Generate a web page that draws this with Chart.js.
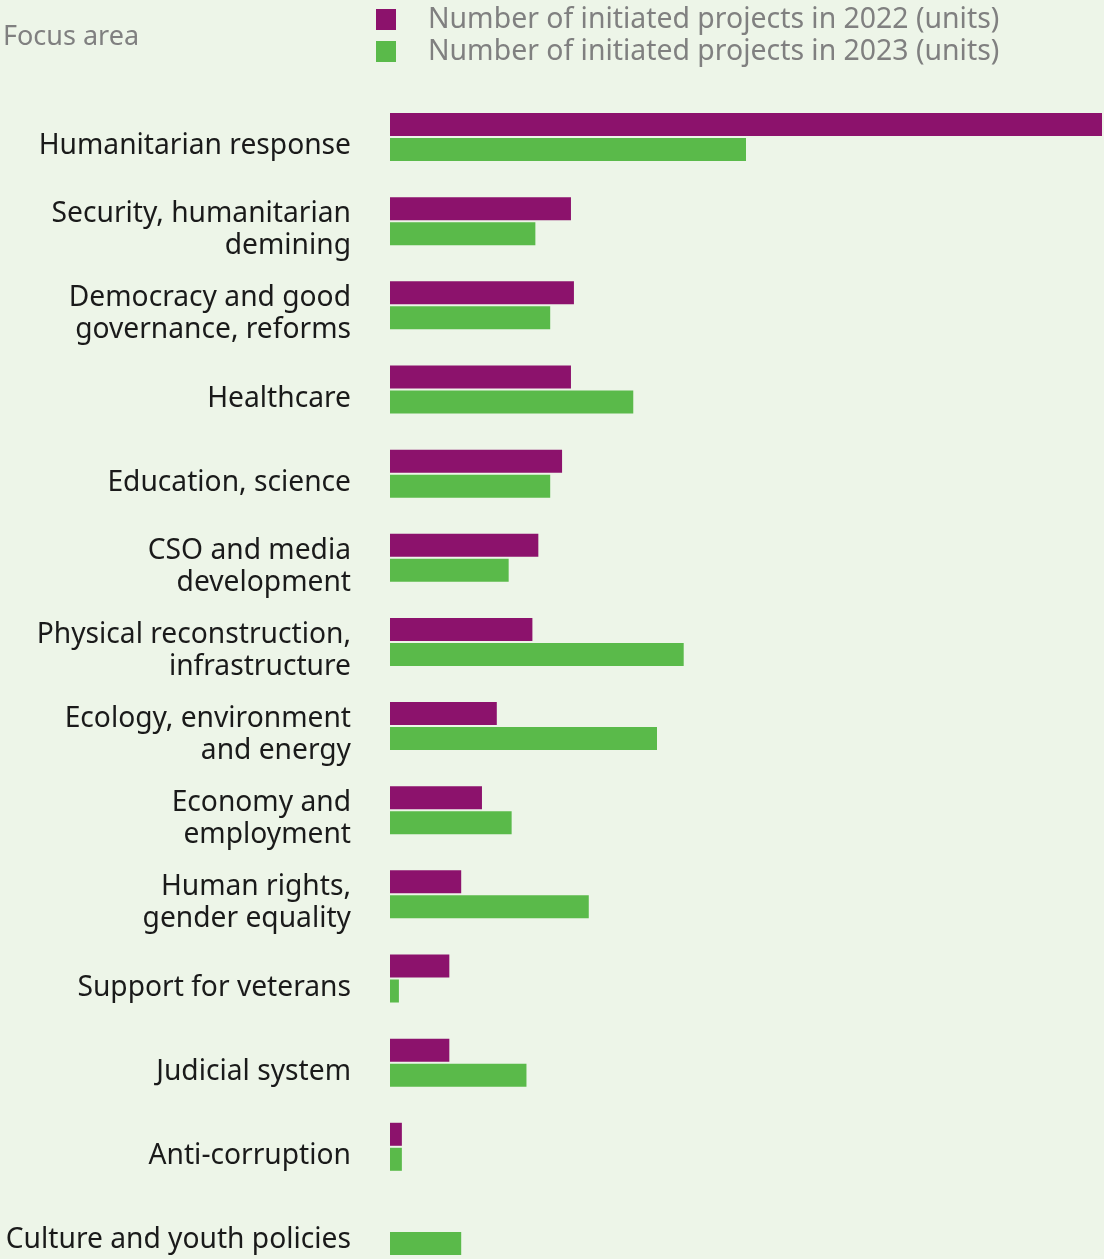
<!DOCTYPE html>
<html>
<head>
<meta charset="utf-8">
<script src="https://cdn.jsdelivr.net/npm/chart.js@4.4.1/dist/chart.umd.min.js"></script>
<style>
  html, body { margin: 0; padding: 0; background: #edf5e8; overflow: hidden; }
  #wrap { position: relative; width: 1104px; height: 1259px; overflow: hidden; }
  #chart { position: absolute; left: 0; top: 0; }
  #focus { position: absolute; left: 3px; top: 19px; font: 27px/32px "Noto Sans"; color: #808080; }
  #legend { position: absolute; left: 376px; top: 1px; font: 28.4px/32px "Noto Sans"; color: #808080; }
  .item { display: flex; align-items: flex-start; height: 32px; white-space: nowrap; }
  .sw { width: 20px; height: 21px; margin-top: 8px; margin-right: 32px; flex: none; }
</style>
</head>
<body>
<div id="wrap">
  <canvas id="chart" width="1104" height="1273"></canvas>
  <div id="focus">Focus area</div>
  <div id="legend"></div>
</div>
<script>
  const categories = [
    "Humanitarian response",
    ["Security, humanitarian", "demining"],
    ["Democracy and good", "governance, reforms"],
    "Healthcare",
    "Education, science",
    ["CSO and media", "development"],
    ["Physical reconstruction,", "infrastructure"],
    ["Ecology, environment", "and energy"],
    ["Economy and", "employment"],
    ["Human rights,", "gender equality"],
    "Support for veterans",
    "Judicial system",
    "Anti-corruption",
    "Culture and youth policies"
  ];
  const projects2022 = [240, 61, 62, 61, 58, 50, 48, 36, 31, 24, 20, 20, 4, 0];
  const projects2023 = [120, 49, 54, 82, 54, 40, 99, 90, 41, 67, 3, 46, 4, 24];
  const seriesNames = [
    "Number of initiated projects in 2022 (units)",
    "Number of initiated projects in 2023 (units)"
  ];
  const colors = ["#8c126c", "#5aba4a"];

  const FONT = "Noto Sans";

  const chart = new Chart(document.getElementById("chart"), {
    type: "bar",
    data: {
      labels: categories,
      datasets: [
        { label: seriesNames[0], data: projects2022, backgroundColor: colors[0] },
        { label: seriesNames[1], data: projects2023, backgroundColor: colors[1] }
      ]
    },
    options: {
      indexAxis: "y",
      responsive: false,
      devicePixelRatio: 1,
      animation: false,
      layout: { padding: { top: 95, right: 2, left: 0, bottom: 0 } },
      datasets: { bar: { categoryPercentage: 0.5945, barPercentage: 0.92 } },
      plugins: { legend: { display: false }, tooltip: { enabled: false } },
      scales: {
        x: { display: false, min: 0, max: 240 },
        y: {
          // fixed axis width, and no extra room for the label halves
          afterFit: (s) => {
            s.width = 390;
            s.paddingTop = 0;
            s.paddingBottom = 0;
          },
          grid: { display: false, drawTicks: false },
          border: { display: false },
          ticks: {
            autoSkip: false,
            padding: 39,
            labelOffset: 9,
            color: "#1a1a1a",
            font: { family: FONT, size: 28.2, lineHeight: 32 / 28.2 }
          }
        }
      }
    }
  });

  // legend from the datasets
  document.getElementById("legend").innerHTML = chart.data.datasets.map(d => `
    <div class="item"><span class="sw" style="background:${d.backgroundColor}"></span>${d.label}</div>`).join("");
</script>
</body>
</html>
